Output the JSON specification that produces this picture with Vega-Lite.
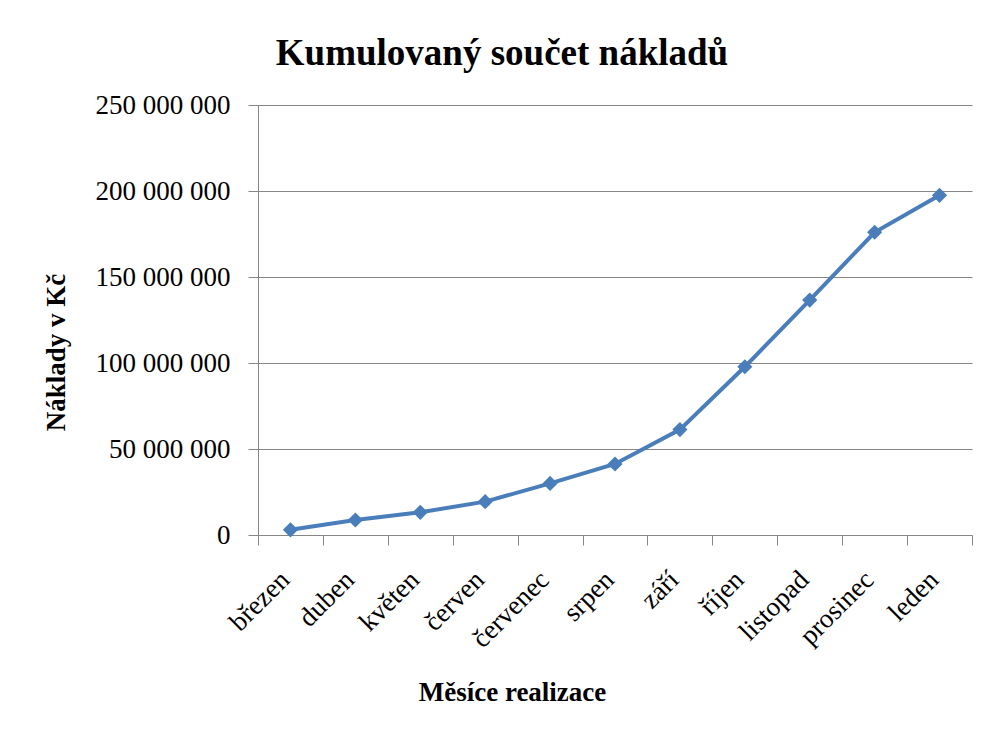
{
  "$schema": "https://vega.github.io/schema/vega-lite/v6.json",
  "width": 714,
  "height": 430,
  "autosize": {"type": "none"},
  "padding": {"left": 258, "top": 105, "right": 12, "bottom": 196},
  "background": "white",
  "title": {
    "text": "Kumulovaný součet nákladů",
    "font": "Liberation Serif",
    "fontSize": 37,
    "fontWeight": "bold",
    "color": "black",
    "anchor": "middle",
    "frame": "group",
    "dx": -113,
    "baseline": "alphabetic",
    "offset": -11
  },
  "data": {
    "values": [
      {"mesic": "březen", "naklady": 3000000},
      {"mesic": "duben", "naklady": 8700000},
      {"mesic": "květen", "naklady": 13200000},
      {"mesic": "červen", "naklady": 19400000},
      {"mesic": "červenec", "naklady": 30000000},
      {"mesic": "srpen", "naklady": 41300000},
      {"mesic": "září", "naklady": 61300000},
      {"mesic": "říjen", "naklady": 97800000},
      {"mesic": "listopad", "naklady": 136600000},
      {"mesic": "prosinec", "naklady": 176000000},
      {"mesic": "leden", "naklady": 197500000}
    ]
  },
  "mark": {
    "type": "line",
    "color": "#4A7EBB",
    "strokeWidth": 4,
    "point": {"filled": true, "shape": "diamond", "size": 230, "color": "#4A7EBB"}
  },
  "encoding": {
    "x": {
      "field": "mesic",
      "type": "nominal",
      "sort": null,
      "scale": {"type": "band", "paddingInner": 0, "paddingOuter": 0},
      "axis": {
        "title": "Měsíce realizace",
        "titleFont": "Liberation Serif",
        "titleFontSize": 27,
        "titleFontWeight": "bold",
        "titleColor": "black",
        "titleX": 254,
        "titleY": 165,
        "titleAlign": "center",
        "titleBaseline": "alphabetic",
        "labelFont": "Liberation Serif",
        "labelFontSize": 27,
        "labelColor": "black",
        "labelAngle": -45,
        "labelAlign": "right",
        "labelBaseline": "alphabetic",
        "labelPadding": 36,
        "tickBand": "extent",
        "tickSize": 10,
        "tickColor": "#868686",
        "domainColor": "#868686",
        "domainWidth": 1,
        "grid": false,
        "labelOverlap": false
      }
    },
    "y": {
      "field": "naklady",
      "type": "quantitative",
      "scale": {"domain": [0, 250000000], "nice": false},
      "axis": {
        "values": [0, 50000000, 100000000, 150000000, 200000000, 250000000],
        "format": ",d",
        "title": "Náklady v Kč",
        "titleFont": "Liberation Serif",
        "titleFontSize": 27,
        "titleFontWeight": "bold",
        "titleColor": "black",
        "titleAngle": -90,
        "titleX": -194,
        "titleY": 247,
        "titleAlign": "center",
        "titleBaseline": "alphabetic",
        "labelFont": "Liberation Serif",
        "labelFontSize": 27,
        "labelColor": "black",
        "labelPadding": 18,
        "tickSize": 10,
        "tickColor": "#868686",
        "domainColor": "#868686",
        "gridColor": "#868686",
        "grid": true
      }
    }
  },
  "config": {
    "locale": {
      "number": {"decimal": ",", "thousands": " ", "grouping": [3], "currency": ["", ""]}
    },
    "view": {"stroke": null}
  }
}
